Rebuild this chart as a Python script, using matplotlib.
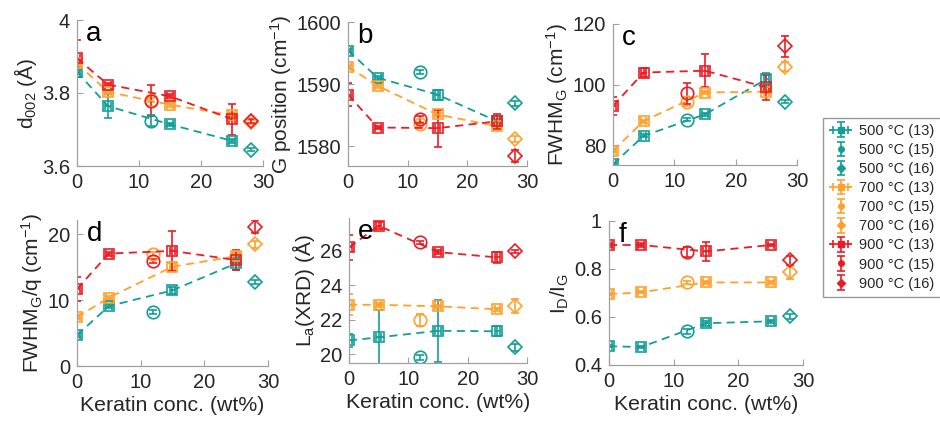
import matplotlib
matplotlib.use("Agg")
import matplotlib.pyplot as plt
import numpy as np
from matplotlib.ticker import FormatStrFormatter

plt.rcParams["font.family"] = ["Liberation Sans", "DejaVu Sans"]
plt.rcParams["mathtext.fontset"] = "custom"
plt.rcParams["mathtext.rm"] = "Liberation Sans"
plt.rcParams["mathtext.it"] = "Liberation Sans"

# keratin concentration per batch: (13) series, (15) and (16) single points
KERATIN_13 = [0, 5, 15, 25]
KERATIN_15 = [12]
KERATIN_16 = [28]
TEMPS = ["500", "700", "900"]
COLORS = {"500": "#139e97", "700": "#ffa12b", "900": "#ec1c24"}

# values per temperature: 4 points of batch 13, then batch 15, then batch 16
D002_500 = [3.858, 3.764, 3.714, 3.669, 3.724, 3.645]
D002_700 = [3.881, 3.803, 3.768, 3.739, 3.780, 3.720]
D002_900 = [3.895, 3.823, 3.791, 3.728, 3.779, 3.724]
D002_ERR_500 = [0.005, 0.032, 0.005, 0.005, 0.015, 0.005]
D002_ERR_700 = [0.005, 0.005, 0.005, 0.005, 0.005, 0.005]
D002_ERR_900 = [0.05, 0.005, 0.005, 0.043, 0.043, 0.005]

GPOS_500 = [1595.4, 1591.0, 1588.3, 1584.0, 1591.9, 1586.9]
GPOS_700 = [1592.8, 1589.7, 1585.1, 1583.2, 1583.6, 1581.2]
GPOS_900 = [1588.3, 1583.0, 1582.9, 1584.0, 1584.3, 1578.4]
GPOS_ERR_500 = [0.3, 0.3, 0.8, 0.3, 0.3, 0.4]
GPOS_ERR_700 = [0.3, 0.3, 0.3, 0.3, 0.3, 0.5]
GPOS_ERR_900 = [1.8, 0.3, 3.0, 1.2, 0.5, 1.0]

FWHM_500 = [73.8, 83.1, 90.2, 101.8, 88.4, 94.4]
FWHM_700 = [78.2, 88.0, 97.4, 97.7, 94.4, 105.9]
FWHM_900 = [93.0, 104.0, 104.6, 99.1, 97.1, 112.7]
FWHM_ERR_500 = [0.5, 0.5, 0.5, 2.0, 0.5, 0.5]
FWHM_ERR_700 = [0.5, 0.5, 0.5, 0.5, 1.5, 1.5]
FWHM_ERR_900 = [3.0, 1.5, 5.5, 4.0, 3.5, 3.5]

FWHMQ_500 = [4.7, 9.1, 11.5, 15.6, 8.2, 12.8]
FWHMQ_700 = [7.4, 10.4, 15.1, 16.7, 17.1, 18.5]
FWHMQ_900 = [11.7, 17.1, 17.5, 16.1, 16.0, 21.2]
FWHMQ_ERR_500 = [0.3, 0.3, 0.5, 1.0, 0.3, 0.3]
FWHMQ_ERR_700 = [0.3, 0.3, 0.5, 0.5, 0.3, 0.5]
FWHMQ_ERR_900 = [1.8, 0.3, 3.0, 1.5, 0.3, 1.0]

LA_500 = [20.79, 20.97, 21.35, 21.32, 19.80, 20.40]
LA_700 = [22.86, 22.86, 22.77, 22.60, 21.99, 22.80]
LA_900 = [26.19, 27.45, 25.92, 25.61, 26.48, 25.96]
LA_ERR_500 = [0.4, 1.6, 1.8, 0.3, 0.15, 0.2]
LA_ERR_700 = [0.6, 0.1, 0.1, 0.1, 0.35, 0.4]
LA_ERR_900 = [0.7, 0.2, 0.1, 0.3, 0.1, 0.1]

IDIG_500 = [0.478, 0.475, 0.574, 0.582, 0.541, 0.603]
IDIG_700 = [0.695, 0.703, 0.744, 0.744, 0.744, 0.788]
IDIG_900 = [0.900, 0.900, 0.873, 0.900, 0.870, 0.836]
IDIG_ERR_500 = [0.005, 0.005, 0.01, 0.005, 0.01, 0.01]
IDIG_ERR_700 = [0.005, 0.005, 0.005, 0.005, 0.005, 0.03]
IDIG_ERR_900 = [0.01, 0.01, 0.04, 0.005, 0.02, 0.02]

PANELS = [
    ("a", r"d$_{002}$ (Å)", (D002_500, D002_700, D002_900),
     (D002_ERR_500, D002_ERR_700, D002_ERR_900), (3.6, 4.0), [3.6, 3.8, 4.0]),
    ("b", r"G position (cm$^{-1}$)", (GPOS_500, GPOS_700, GPOS_900),
     (GPOS_ERR_500, GPOS_ERR_700, GPOS_ERR_900), (1576.8, 1600), [1580, 1590, 1600]),
    ("c", r"FWHM$_{\rm G}$ (cm$^{-1}$)", (FWHM_500, FWHM_700, FWHM_900),
     (FWHM_ERR_500, FWHM_ERR_700, FWHM_ERR_900), (73.5, 120), [80, 100, 120]),
    ("d", r"FWHM$_{\rm G}$/q (cm$^{-1}$)", (FWHMQ_500, FWHMQ_700, FWHMQ_900),
     (FWHMQ_ERR_500, FWHMQ_ERR_700, FWHMQ_ERR_900), (0, 22.2), [0, 10, 20]),
    ("e", r"L$_{\rm a}$(XRD) (Å)", (LA_500, LA_700, LA_900),
     (LA_ERR_500, LA_ERR_700, LA_ERR_900), (19.48, 27.9), [20, 22, 24, 26]),
    ("f", r"I$_{\rm D}$/I$_{\rm G}$", (IDIG_500, IDIG_700, IDIG_900),
     (IDIG_ERR_500, IDIG_ERR_700, IDIG_ERR_900), (0.4, 1.0), [0.4, 0.6, 0.8, 1.0]),
]

# axes boxes in pixels: left, top, width, height
BOXES = [(77, 20, 186, 146), (348, 22, 179, 144), (613, 24, 184, 141),
         (77, 220, 191, 146), (349, 218, 178, 145), (609, 221, 194, 144)]

W, H = 940, 422
fig = plt.figure(figsize=(W / 100, H / 100), dpi=100)
SPINE = "#a0a0a0"

for i, ((letter, ylabel, vals, errs, ylim, yticks), (l, t, w, h)) in enumerate(zip(PANELS, BOXES)):
    ax = fig.add_axes([l / W, 1 - (t + h) / H, w / W, h / H])
    for temp, v, e in zip(TEMPS, vals, errs):
        c = COLORS[temp]
        common = dict(color=c, ecolor=c, elinewidth=1.2, capsize=3, capthick=1.2,
                      mfc="none", mec=c, mew=1.2)
        ax.errorbar(KERATIN_13, v[:4], yerr=e[:4], xerr=0.45, fmt="s", ls="--",
                    lw=1.3, dashes=(4.5, 3), ms=7.5, **common)
        ax.errorbar(KERATIN_15, v[4:5], yerr=e[4:5], fmt="o", ms=9, **common)
        ax.errorbar(KERATIN_16, v[5:6], yerr=e[5:6], fmt="D", ms=7, **common)
    ax.set_xlim(0, 30)
    ax.set_ylim(*ylim)
    ax.set_xticks([0, 10, 20, 30])
    ax.set_yticks(yticks)
    ax.yaxis.set_major_formatter(FormatStrFormatter("%g"))
    for s in ("top", "right"):
        ax.spines[s].set_visible(False)
    for s in ("left", "bottom"):
        ax.spines[s].set_color(SPINE)
        ax.spines[s].set_linewidth(0.9)
    ax.tick_params(direction="in", length=4, width=0.8, color=SPINE,
                   labelsize=14.5, labelcolor="#262626", pad=5)
    ax.set_ylabel(ylabel, fontsize=15, color="#262626", labelpad=2)
    if i >= 3:
        ax.set_xlabel("Keratin conc. (wt%)", fontsize=15.3, color="#262626", labelpad=3)
    ax.text(0.05, 0.99, letter, transform=ax.transAxes, fontsize=20,
            va="top", ha="left", color="black")

# legend proxies
hax = fig.add_axes([0, 0, 0.01, 0.01])
hax.set_visible(False)
handles, labels = [], []
for temp in TEMPS:
    c = COLORS[temp]
    common = dict(color=c, ecolor=c, elinewidth=1.2, capsize=3, capthick=1.2,
                  mfc=c, mec=c, ms=4)
    handles.append(hax.errorbar([np.nan], [np.nan], yerr=[1], xerr=[1], fmt="s",
                                ls="--", lw=1.3, dashes=(3, 2), **common))
    labels.append(f"{temp} °C (13)")
    handles.append(hax.errorbar([np.nan], [np.nan], yerr=[1], fmt="o", **common))
    labels.append(f"{temp} °C (15)")
    handles.append(hax.errorbar([np.nan], [np.nan], yerr=[1], fmt="D", **common))
    labels.append(f"{temp} °C (16)")

leg = fig.legend(handles, labels, loc="upper left", bbox_to_anchor=(823 / W, 1 - 118 / H),
                 fontsize=10.5, frameon=True, fancybox=False, edgecolor="#999999",
                 framealpha=1, handlelength=1.6, handletextpad=0.5, labelspacing=0.35,
                 borderpad=0.4, borderaxespad=0)
for txt in leg.get_texts():
    txt.set_color("#262626")

fig.savefig("out.png", dpi=100, facecolor="white")
